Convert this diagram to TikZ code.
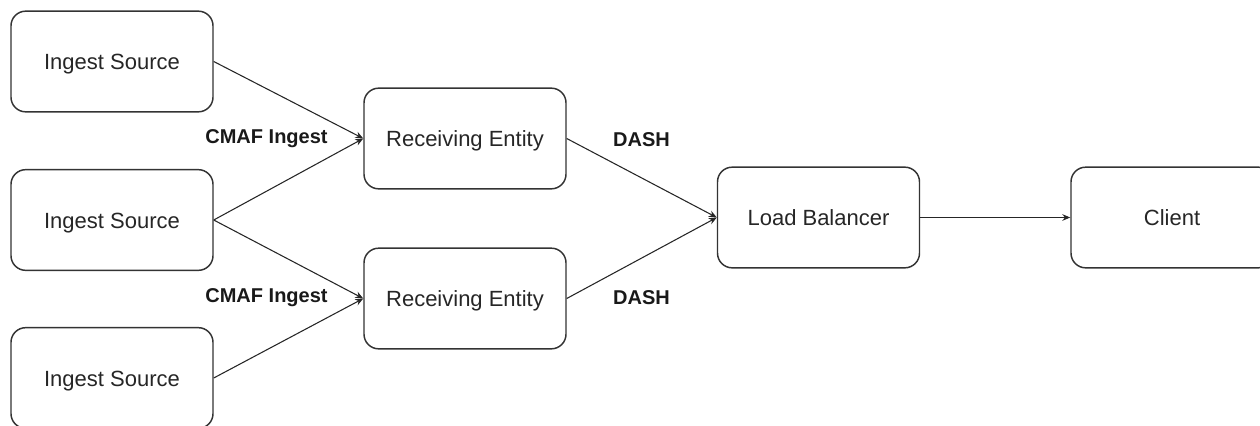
\documentclass[tikz,border=0pt]{standalone}
\usepackage{fontspec}
\setmainfont{Liberation Sans}
\usetikzlibrary{arrows.meta}
\begin{document}
\begin{tikzpicture}[x=0.75pt,y=-0.75pt,
  box/.style={draw=black!80, line width=1.1pt, rounded corners=11pt, minimum width=151.5pt, minimum height=75.5pt, inner sep=0pt, text height=12pt, text depth=0pt, font=\fontsize{16.5}{19}\selectfont, text=black!85},
  lbl/.style={font=\fontsize{15}{18}\selectfont\bfseries, text=black!90, inner sep=0pt},
  conn/.style={draw=black!85, line width=0.8pt, -{Stealth[length=6pt,width=5pt,inset=2pt]}}]
\useasboundingbox (0,0) rectangle (1260,425);
\clip (0,0) rectangle (1260,425);
\node[box] (s1) at (112,61.5) {Ingest Source};
\node[box] (s2) at (112,220) {Ingest Source};
\node[box] (s3) at (112,378) {Ingest Source};
\node[box] (r1) at (465,138.5) {Receiving Entity};
\node[box] (r2) at (465,298.5) {Receiving Entity};
\node[box] (lb) at (818.5,217.5) {Load Balancer};
\node[box] (cl) at (1172,217.5) {Client};
\draw[conn] (s1.east) -- (r1.west);
\draw[conn] (s2.east) -- (r1.west);
\draw[conn] (s2.east) -- (r2.west);
\draw[conn] (s3.east) -- (r2.west);
\draw[conn] (r1.east) -- (lb.west);
\draw[conn] (r2.east) -- (lb.west);
\draw[conn] (lb.east) -- (cl.west);
\node[lbl] (c1) at (266.5,139) {CMAF Ingest};
\node[lbl] (c2) at (266.5,297.5) {CMAF Ingest};
\node[lbl] (d1) at (641.5,139.5) {DASH};
\node[lbl] (d2) at (641.5,297.5) {DASH};
\end{tikzpicture}
\end{document}
